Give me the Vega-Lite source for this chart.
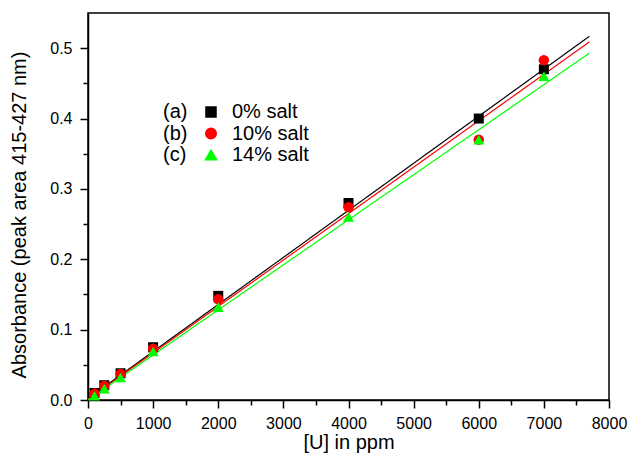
{
  "$schema": "https://vega.github.io/schema/vega-lite/v6.json",
  "width": 521,
  "height": 387,
  "autosize": {"type": "none"},
  "padding": {"left": 88, "top": 13, "right": 21, "bottom": 57},
  "background": "white",
  "config": {
    "font": "Liberation Sans",
    "view": {"stroke": "black", "strokeWidth": 1.5},
    "axis": {
      "domainColor": "black", "domainWidth": 1.5, "tickColor": "black", "tickWidth": 1.5,
      "labelColor": "black", "titleColor": "black", "grid": false,
      "labelFont": "Liberation Sans", "titleFont": "Liberation Sans",
      "labelFontSize": 16, "titleFontSize": 20, "titleFontWeight": "normal"
    },
    "legend": {"labelFont": "Liberation Sans", "labelFontSize": 20, "labelColor": "black"}
  },
  "datasets": {
    "points": [
      {"salt": "0% salt", "ppm": 100, "abs": 0.010},
      {"salt": "0% salt", "ppm": 250, "abs": 0.021},
      {"salt": "0% salt", "ppm": 500, "abs": 0.038},
      {"salt": "0% salt", "ppm": 1000, "abs": 0.075},
      {"salt": "0% salt", "ppm": 2000, "abs": 0.148},
      {"salt": "0% salt", "ppm": 4000, "abs": 0.280},
      {"salt": "0% salt", "ppm": 6000, "abs": 0.400},
      {"salt": "0% salt", "ppm": 7000, "abs": 0.470},
      {"salt": "10% salt", "ppm": 100, "abs": 0.009},
      {"salt": "10% salt", "ppm": 250, "abs": 0.020},
      {"salt": "10% salt", "ppm": 500, "abs": 0.037},
      {"salt": "10% salt", "ppm": 1000, "abs": 0.073},
      {"salt": "10% salt", "ppm": 2000, "abs": 0.143},
      {"salt": "10% salt", "ppm": 4000, "abs": 0.274},
      {"salt": "10% salt", "ppm": 6000, "abs": 0.370},
      {"salt": "10% salt", "ppm": 7000, "abs": 0.483},
      {"salt": "14% salt", "ppm": 100, "abs": 0.006},
      {"salt": "14% salt", "ppm": 250, "abs": 0.016},
      {"salt": "14% salt", "ppm": 500, "abs": 0.032},
      {"salt": "14% salt", "ppm": 1000, "abs": 0.069},
      {"salt": "14% salt", "ppm": 2000, "abs": 0.132},
      {"salt": "14% salt", "ppm": 4000, "abs": 0.260},
      {"salt": "14% salt", "ppm": 6000, "abs": 0.370},
      {"salt": "14% salt", "ppm": 7000, "abs": 0.460}
    ],
    "fits": [
      {"salt": "0% salt", "tag": "(a)", "ppm": 0, "abs": 0.002},
      {"salt": "0% salt", "tag": "(a)", "ppm": 7700, "abs": 0.517},
      {"salt": "10% salt", "tag": "(b)", "ppm": 0, "abs": 0.001},
      {"salt": "10% salt", "tag": "(b)", "ppm": 7700, "abs": 0.509},
      {"salt": "14% salt", "tag": "(c)", "ppm": 0, "abs": 0.0},
      {"salt": "14% salt", "tag": "(c)", "ppm": 7700, "abs": 0.493}
    ]
  },
  "layer": [
    {
      "data": {"name": "fits"},
      "mark": {"type": "line", "strokeWidth": 1.2},
      "encoding": {
        "x": {"field": "ppm", "type": "quantitative",
          "scale": {"domain": [0, 8000], "nice": false, "zero": false},
          "axis": {"orient": "bottom", "values": [0, 1000, 2000, 3000, 4000, 5000, 6000, 7000, 8000], "format": "d", "tickSize": 8, "labelPadding": 7, "title": "[U] in ppm", "titlePadding": 1, "labelFlush": false, "labelOverlap": false}},
        "y": {"field": "abs", "type": "quantitative",
          "scale": {"domain": [0, 0.55], "nice": false, "zero": false},
          "axis": {"orient": "left", "values": [0, 0.1, 0.2, 0.3, 0.4, 0.5], "format": ".1f", "tickSize": 8, "labelPadding": 8, "title": "Absorbance (peak area 415-427 nm)", "titlePadding": 20, "titleY": 201.5, "labelFlush": false, "labelOverlap": false}},
        "color": {"field": "salt", "type": "nominal",
          "scale": {"domain": ["0% salt", "10% salt", "14% salt"], "range": ["#000000", "#ff0000", "#00ff00"]},
          "legend": {"orient": "none", "legendX": 113, "legendY": 89, "title": null, "padding": 0, "symbolSize": 110, "labelOffset": 11, "rowPadding": 1.5, "labelFontSize": 20}},
        "strokeDash": {"field": "tag", "type": "nominal",
          "scale": {"domain": ["(a)", "(b)", "(c)"], "range": [[1, 0], [1, 0], [1, 0]]},
          "legend": {"orient": "none", "legendX": 55, "legendY": 89, "title": null, "padding": 0, "symbolOpacity": 0, "symbolStrokeWidth": 0, "symbolSize": 1, "labelOffset": 0, "rowPadding": 1.5, "labelFontSize": 20}}
      }
    },
    {
      "data": {"name": "points"},
      "mark": {"type": "point", "filled": true, "opacity": 1},
      "encoding": {
        "x": {"field": "ppm", "type": "quantitative",
          "axis": {"orient": "bottom", "values": [500, 1500, 2500, 3500, 4500, 5500, 6500, 7500], "tickSize": 5, "labels": false, "domain": false, "title": null}},
        "y": {"field": "abs", "type": "quantitative",
          "axis": {"orient": "left", "values": [0.05, 0.15, 0.25, 0.35, 0.45], "tickSize": 5, "labels": false, "domain": false, "title": null}},
        "color": {"field": "salt", "type": "nominal",
          "legend": {"orient": "none", "legendX": 113, "legendY": 89, "title": null, "padding": 0, "symbolSize": 110, "labelOffset": 11, "rowPadding": 1.5, "labelFontSize": 20}},
        "shape": {"field": "salt", "type": "nominal",
          "scale": {"domain": ["0% salt", "10% salt", "14% salt"], "range": ["square", "circle", "triangle-up"]},
          "legend": {"orient": "none", "legendX": 113, "legendY": 89, "title": null, "padding": 0, "symbolSize": 110, "labelOffset": 11, "rowPadding": 1.5, "labelFontSize": 20}},
        "size": {"field": "salt", "type": "nominal",
          "scale": {"domain": ["0% salt", "10% salt", "14% salt"], "range": [100, 121, 144]},
          "legend": null}
      }
    }
  ],
  "resolve": {"axis": {"x": "independent", "y": "independent"}}
}
